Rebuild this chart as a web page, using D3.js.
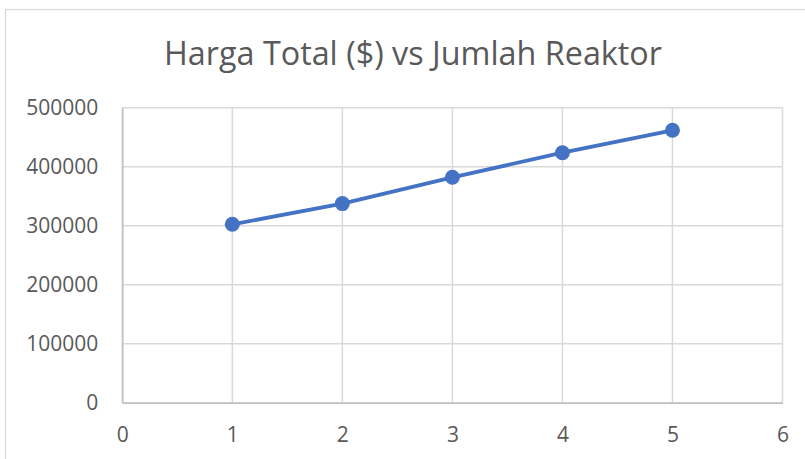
<!DOCTYPE html>
<meta charset="utf-8">
<script src="https://d3js.org/d3.v7.min.js"></script>
<style>
  body { margin: 0; background: #fff; }
  text { font-family: "Open Sans", sans-serif; fill: #595959; }
</style>
<body>
<div id="chart"></div>
<script>
// data
var reaktor = [1, 2, 3, 4, 5]
var hargaTotal = [302400, 337500, 382000, 423700, 461700]
var xTicks = [0, 1, 2, 3, 4, 5, 6]
var yTicks = [0, 100000, 200000, 300000, 400000, 500000]
var title = "Harga Total ($) vs Jumlah Reaktor"

var W = 805, H = 459
var margin = {top: 107.7, left: 122.3},
    width = 782.5 - margin.left,
    height = 402.7 - margin.top

var svg = d3.select("#chart").append("svg")
  .attr("width", W).attr("height", H)

// chart area border
svg.append("rect")
  .attr("x", 5.5).attr("y", 9.5)
  .attr("width", W + 10).attr("height", H + 10)
  .attr("fill", "#fff").attr("stroke", "#d9d9d9").attr("stroke-width", 1.2)

svg.append("text")
  .attr("x", 413).attr("y", 65)
  .attr("text-anchor", "middle")
  .attr("font-size", 32)
  .attr("textLength", 498)
  .attr("lengthAdjust", "spacingAndGlyphs")
  .text(title)

var g = svg.append("g")
  .attr("transform", "translate(" + margin.left + "," + margin.top + ")")

var x = d3.scaleLinear().domain([0, 6]).range([0, width])
var y = d3.scaleLinear().domain([0, 500000]).range([height, 0])

// gridlines
g.append("g")
  .selectAll("line").data(yTicks).enter().append("line")
    .attr("x1", 0).attr("x2", width)
    .attr("y1", function(d){ return y(d) }).attr("y2", function(d){ return y(d) })
    .attr("stroke", "#d9d9d9").attr("stroke-width", 1.5)
g.append("g")
  .selectAll("line").data(xTicks).enter().append("line")
    .attr("y1", 0).attr("y2", height)
    .attr("x1", function(d){ return x(d) }).attr("x2", function(d){ return x(d) })
    .attr("stroke", "#d9d9d9").attr("stroke-width", 1.5)

// axes
var yAxis = g.append("g")
  .call(d3.axisLeft(y).tickValues(yTicks).tickSize(0).tickPadding(24).tickFormat(d3.format("d")))
yAxis.select(".domain").attr("stroke", "#bfbfbf").attr("stroke-width", 1.5)
yAxis.selectAll("text").attr("font-size", 21).attr("dy", "0.3em")
  .style("font-family", null).attr("font-family", null)

var xAxis = g.append("g")
  .attr("transform", "translate(0," + height + ")")
  .call(d3.axisBottom(x).tickValues(xTicks).tickSize(0).tickFormat(d3.format("d")))
xAxis.select(".domain").attr("stroke", "#bfbfbf").attr("stroke-width", 1.5)
xAxis.selectAll("text").attr("font-size", 21).attr("y", 39).attr("dy", 0)
  .attr("font-family", null)

// series
var pts = reaktor.map(function(r, i){ return [r, hargaTotal[i]] })
g.append("path")
  .datum(pts)
  .attr("fill", "none")
  .attr("stroke", "#4472c4")
  .attr("stroke-width", 3.8)
  .attr("stroke-linejoin", "round")
  .attr("d", d3.line().x(function(d){ return x(d[0]) }).y(function(d){ return y(d[1]) }))

g.selectAll("circle").data(pts).enter().append("circle")
  .attr("cx", function(d){ return x(d[0]) })
  .attr("cy", function(d){ return y(d[1]) })
  .attr("r", 7.5)
  .attr("fill", "#4472c4")
</script>
</body>
